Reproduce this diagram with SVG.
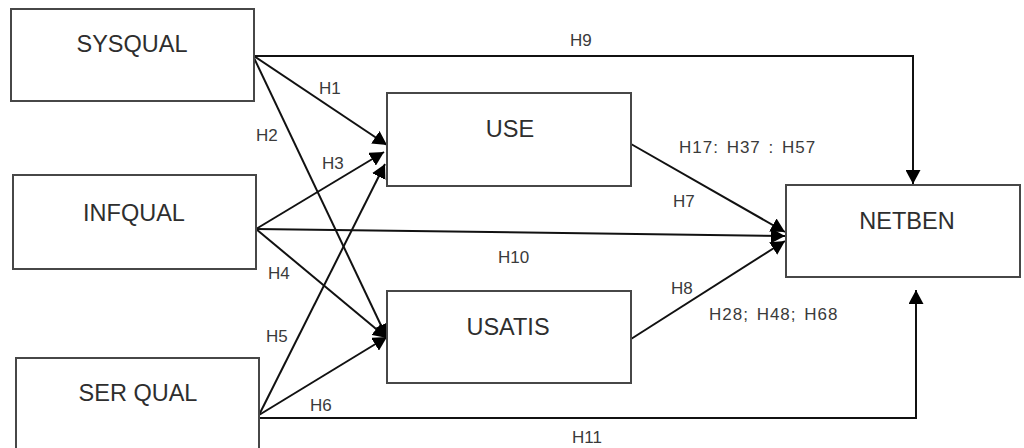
<svg xmlns="http://www.w3.org/2000/svg" width="1024" height="448" viewBox="0 0 1024 448">
  <style>
    .box { fill: #ffffff; stroke: #474747; stroke-width: 2; }
    .name { font-family: "Liberation Sans", Arial, sans-serif; font-size: 23.5px; fill: #2e2e2e; text-anchor: middle; }
    .edge { fill: none; stroke: #111111; stroke-width: 2; }
    .lbl { font-family: "Liberation Sans", Arial, sans-serif; font-size: 17px; fill: #3a3a3a; }
    .wide { letter-spacing: 1px; word-spacing: 2px; }
  </style>
  <defs>
    <marker id="arrow" markerUnits="userSpaceOnUse" markerWidth="15" markerHeight="15" refX="14" refY="7.5" orient="auto">
      <path d="M0,0 L14,7.5 L0,15 Z" fill="#000000"/>
    </marker>
  </defs>
  <rect width="1024" height="448" fill="#ffffff"/>

  <!-- connectors -->
  <g id="connectors">
    <!-- from SYSQUAL -->
    <polyline class="edge" points="254,56 913,56 913,184" marker-end="url(#arrow)"/>
    <line class="edge" x1="254" y1="56" x2="387" y2="145" marker-end="url(#arrow)"/>
    <line class="edge" x1="254" y1="58" x2="387" y2="338" marker-end="url(#arrow)"/>
    <!-- from INFQUAL -->
    <line class="edge" x1="256" y1="229" x2="384" y2="152" marker-end="url(#arrow)"/>
    <line class="edge" x1="256" y1="229" x2="785" y2="236" marker-end="url(#arrow)"/>
    <line class="edge" x1="256" y1="229" x2="387" y2="338" marker-end="url(#arrow)"/>
    <!-- from SERQUAL -->
    <line class="edge" x1="259" y1="415" x2="385" y2="164" marker-end="url(#arrow)"/>
    <line class="edge" x1="259" y1="415" x2="387" y2="337" marker-end="url(#arrow)"/>
    <polyline class="edge" points="259,418 916,418 916,290" marker-end="url(#arrow)"/>
    <!-- into NETBEN -->
    <line class="edge" x1="631" y1="144" x2="785" y2="232" marker-end="url(#arrow)"/>
    <line class="edge" x1="631" y1="339" x2="785" y2="241" marker-end="url(#arrow)"/>
  </g>

  <!-- connector labels -->
  <g id="labels">
    <text class="lbl" x="319" y="94">H1</text>
    <text class="lbl" x="256" y="141">H2</text>
    <text class="lbl" x="322" y="169">H3</text>
    <text class="lbl" x="268" y="279">H4</text>
    <text class="lbl" x="266" y="342">H5</text>
    <text class="lbl" x="310" y="411">H6</text>
    <text class="lbl" x="673" y="207">H7</text>
    <text class="lbl" x="671" y="294">H8</text>
    <text class="lbl" x="570" y="46">H9</text>
    <text class="lbl" x="498" y="263">H10</text>
    <text class="lbl" x="572" y="443">H11</text>
    <text class="lbl wide" x="679" y="153">H17: H37 : H57</text>
    <text class="lbl wide" x="709" y="320">H28; H48; H68</text>
  </g>

  <!-- nodes -->
  <g id="node-sysqual">
    <rect class="box" x="11" y="9" width="243" height="92"/>
    <text class="name" x="132" y="52">SYSQUAL</text>
  </g>
  <g id="node-infqual">
    <rect class="box" x="13" y="175" width="243" height="94"/>
    <text class="name" x="134" y="221">INFQUAL</text>
  </g>
  <g id="node-serqual">
    <rect class="box" x="16" y="358" width="243" height="110"/>
    <text class="name" x="138" y="401">SER QUAL</text>
  </g>
  <g id="node-use">
    <rect class="box" x="387" y="93" width="244" height="93"/>
    <text class="name" x="510" y="137">USE</text>
  </g>
  <g id="node-usatis">
    <rect class="box" x="387" y="291" width="244" height="92"/>
    <text class="name" x="508" y="335">USATIS</text>
  </g>
  <g id="node-netben">
    <rect class="box" x="786" y="185" width="234" height="92"/>
    <text class="name" x="907" y="229">NETBEN</text>
  </g>
</svg>
